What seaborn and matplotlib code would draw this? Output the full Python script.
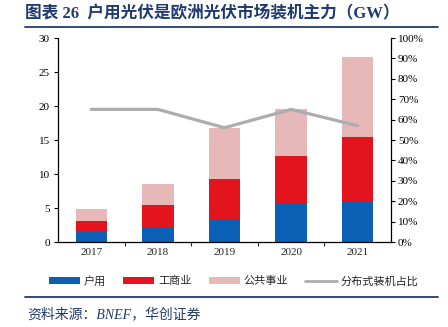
import numpy as np
import pandas as pd
import matplotlib
matplotlib.use("Agg")
import matplotlib.pyplot as plt
import seaborn as sns
from matplotlib.patches import Patch
from matplotlib.lines import Line2D
from matplotlib.ticker import FixedLocator, PercentFormatter

years = ["2017", "2018", "2019", "2020", "2021"]
residential = [1.5, 2.1, 3.2, 5.6, 6.1]
commercial = [1.6, 3.4, 6.1, 7.0, 9.4]
utility = [1.8, 3.0, 7.5, 7.0, 11.7]
dist_share = [65, 65, 56, 65, 57]

sns.set_theme(style="white")
plt.rcParams['font.family'] = ['Liberation Serif', 'Noto Sans CJK SC', 'DejaVu Sans']

C_RES = "#0B5FB5"
C_COM = "#E3141D"
C_UTL = "#E6B9B8"
C_LINE = "#ADADAD"
NAVY = "#1F3B70"

df = pd.DataFrame({"year": years, "res": residential, "com": commercial, "utl": utility})
df["lvl1"] = df["res"]
df["lvl2"] = df["res"] + df["com"]
df["lvl3"] = df["lvl2"] + df["utl"]

fig = plt.figure(figsize=(4.48, 3.27), dpi=100)
ax = fig.add_axes([58/448, 1-242/327, (391-58)/448, (242-38)/327])

for col, c in [("lvl3", C_UTL), ("lvl2", C_COM), ("lvl1", C_RES)]:
    sns.barplot(data=df, x="year", y=col, color=c, width=0.47, ax=ax,
                saturation=1, edgecolor="none", linewidth=0)

ax.set_ylim(0, 30)
ax.set_xlim(-0.5, 4.5)
ax.set_yticks([0, 5, 10, 15, 20, 25, 30])
ax.set_xlabel("")
ax.set_ylabel("")
for s in ["left", "bottom"]:
    ax.spines[s].set_color("black")
    ax.spines[s].set_linewidth(0.9)
ax.spines["top"].set_visible(False)
ax.spines["right"].set_visible(False)
ax.tick_params(axis="y", which="major", direction="out", length=3, width=0.8,
               labelsize=8, pad=3, left=True, colors="black")
ax.tick_params(axis="x", which="major", length=0, labelsize=8, pad=4)
ax.xaxis.set_minor_locator(FixedLocator([0.5, 1.5, 2.5, 3.5]))
ax.tick_params(axis="x", which="minor", direction="out", length=3, width=0.8, bottom=True)

ax2 = ax.twinx()
sns.lineplot(x=np.arange(len(years)), y=dist_share, ax=ax2, color=C_LINE, linewidth=2.3)
ax2.set_ylim(0, 100)
ax2.set_yticks(np.arange(0, 101, 10))
ax2.yaxis.set_major_formatter(PercentFormatter(decimals=0))
ax2.set_ylabel("")
ax2.spines["right"].set_visible(True)
ax2.spines["right"].set_color("black")
ax2.spines["right"].set_linewidth(0.9)
for s in ["top", "left", "bottom"]:
    ax2.spines[s].set_visible(False)
ax2.tick_params(axis="y", direction="out", length=3, width=0.8, labelsize=8, pad=2,
                right=True, colors="black")
ax2.set_xlim(-0.5, 4.5)

# title
fig.text(25/448, 1-14/327, "图表 26  户用光伏是欧洲光伏市场装机主力（GW）",
         fontsize=12, fontweight="bold", color=NAVY, va="center", ha="left")
fig.add_artist(Line2D([25/448, 438/448], [1-27/327, 1-27/327], color=NAVY, lw=1.3))
fig.add_artist(Line2D([25/448, 438/448], [1-297/327, 1-297/327], color=NAVY, lw=1.3))
fig.text(27/448, 1-314/327, "资料来源：BNEF，华创证券", fontsize=10, style="italic",
         color=NAVY, va="center", ha="left")

handles = [Patch(facecolor=C_RES, edgecolor="none"),
           Patch(facecolor=C_COM, edgecolor="none"),
           Patch(facecolor=C_UTL, edgecolor="none"),
           Line2D([0], [0], color=C_LINE, lw=2)]
labels = ["户用", "工商业", "公共事业", "分布式装机占比"]
fig.legend(handles, labels, loc="center", bbox_to_anchor=(233.5/448, 1-281/327), ncol=4,
           frameon=False, handlelength=2.8, handleheight=0.55,
           columnspacing=1.55, handletextpad=0.35, prop={"family": ["Noto Sans CJK SC"], "size": 8})

fig.savefig("out.png", dpi=100)
